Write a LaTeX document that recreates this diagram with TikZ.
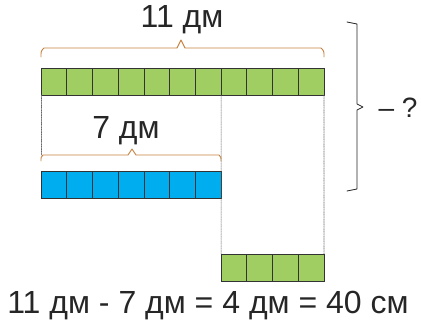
\documentclass[tikz,border=0pt]{standalone}
\usepackage{fontspec}
\setmainfont{Liberation Sans}
\usetikzlibrary{calc}
\definecolor{cellgreen}{RGB}{160,206,98}
\definecolor{cellblue}{RGB}{0,174,239}
\definecolor{bracebrown}{RGB}{196,128,62}

\begin{document}
\begin{tikzpicture}[
  x=1pt,y=1pt,
  line cap=round,
  cell/.style={draw=black!80,line width=0.8pt,minimum width=25.73pt,
               minimum height=27pt,inner sep=0pt,outer sep=0pt},
  green/.style={cell,fill=cellgreen},
  blue/.style={cell,fill=cellblue},
  guide/.style={densely dotted,gray!80!black,line width=0.7pt},
  bracket/.style={bracebrown,line width=0.9pt,line join=round},
  lab/.style={font=\fontsize{32}{36}\selectfont,text=black!85}
]
\useasboundingbox (0,0) rectangle (421,-330);

% ---- verhnij otrezok (11 dm) ----
\foreach \i in {1,...,11}
  \node[green] (g\i) at ({41+25.73*(\i-0.5)},-81.5) {};

% ---- srednij otrezok (7 dm) ----
\foreach \i in {1,...,7}
  \node[blue] (b\i) at ({41+25.73*(\i-0.5)},-185) {};

% ---- raznost (4 dm) ----
\foreach \i in {1,...,4}
  \node[green] (r\i) at ({221.1+25.73*(\i-0.5)},-268) {};

% ---- punktirnye linii ----
\coordinate (m7) at ($(g1.south west)+(0,-60)$);
\draw[guide] (g1.south west) -- (m7);
\draw[guide] (g7.south east) -- (r1.north west);
\draw[guide] (g11.south east) -- (r4.north east);

% ---- skobki ----
\draw[bracket] (41,-57) .. controls (41,-51) .. (44,-48) -- (177,-48)
  -- (181,-40) -- (185,-48) -- (321,-48) .. controls (324,-51) .. (324,-57);
\node[lab] (t11) at (182,-20) {11 дм};

\draw[bracket] (41,-161) .. controls (41,-157) .. (43,-155) -- (128,-155)
  -- (132,-149) -- (136,-155) -- (219,-155) .. controls (221,-157) .. (221,-161);
\node[lab] (t7) at (126,-131) {7 дм};

% ---- pravaja skobka ----
\draw[black!85,line width=0.8pt,line join=round]
  (347,-22) -- (357,-24) -- (357,-104) -- (363,-107) -- (357,-110)
  -- (357,-189) -- (347,-191);
\node[font=\fontsize{28}{32}\selectfont,text=black!85,anchor=west] (q) at (375,-108) {– ?};

% ---- otvet ----
\node[lab] (eq) at (208,-306) {11 дм - 7 дм = 4 дм = 40 см};

\end{tikzpicture}
\end{document}
